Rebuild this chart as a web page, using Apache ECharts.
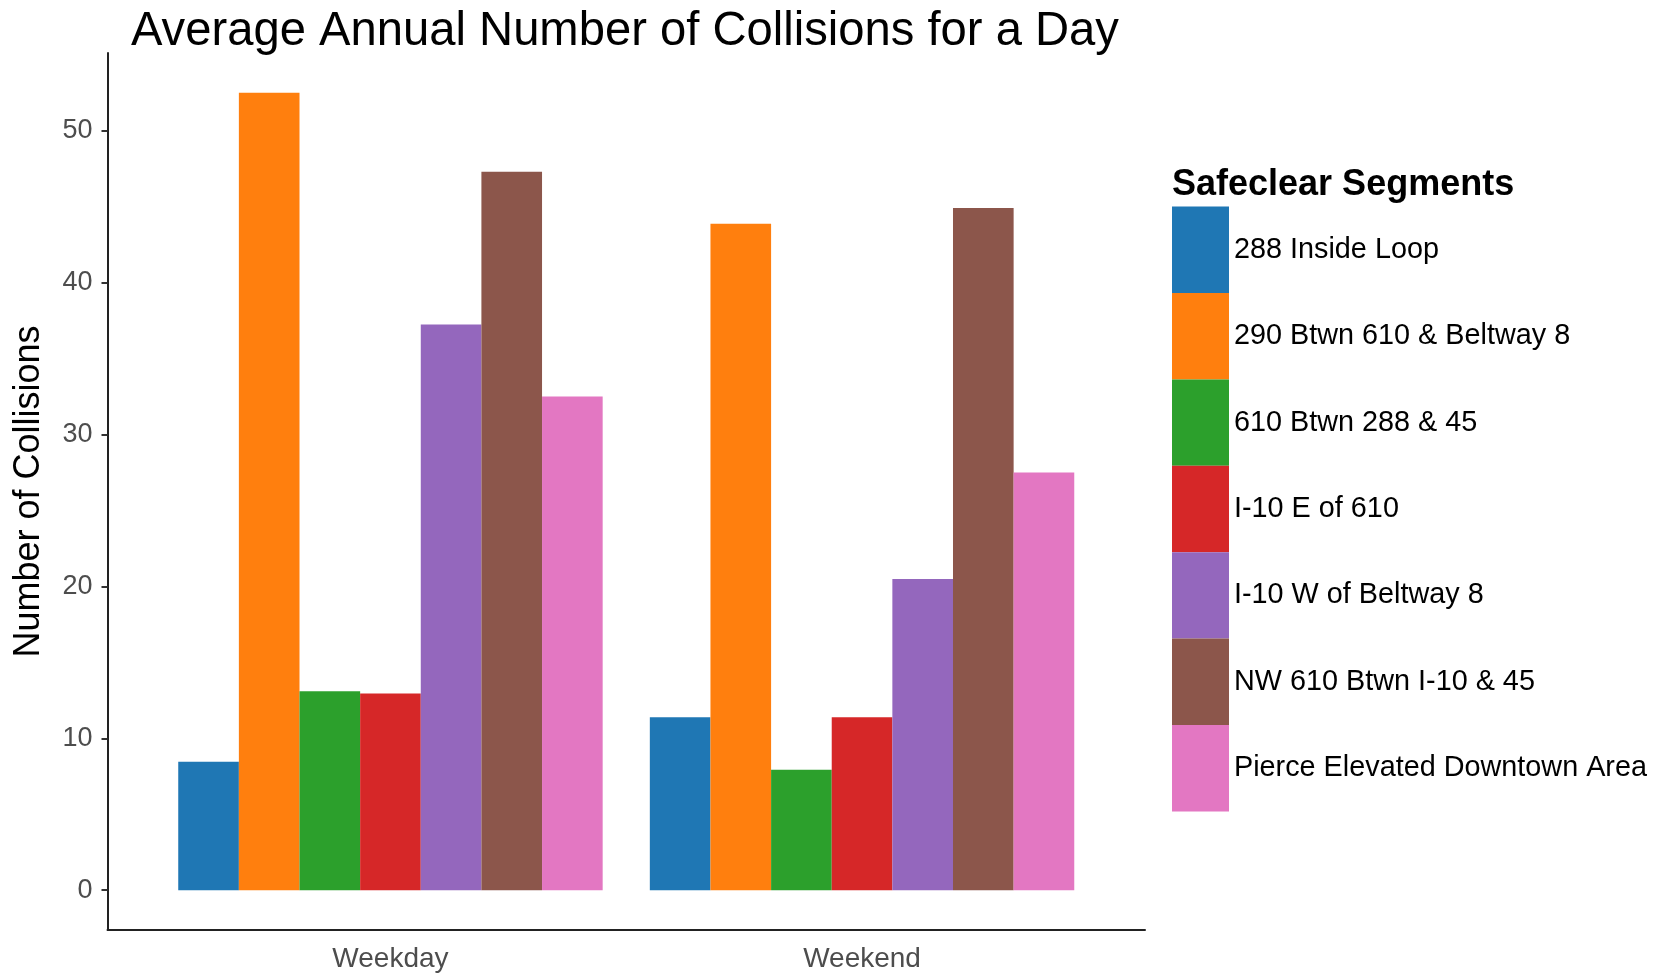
<!DOCTYPE html>
<html>
<head>
<meta charset="utf-8">
<script src="https://cdn.jsdelivr.net/npm/echarts@6/dist/echarts.min.js"></script>
<style>
html,body{margin:0;padding:0;background:#fff;}
#chart{width:1661px;height:973px;}
</style>
</head>
<body>
<div id="chart"></div>
<script>
const categories = ['Weekday', 'Weekend'];
const segments = ['288 Inside Loop', '290 Btwn 610 & Beltway 8', '610 Btwn 288 & 45', 'I-10 E of 610', 'I-10 W of Beltway 8', 'NW 610 Btwn I-10 & 45', 'Pierce Elevated Downtown Area'];
const weekdayValues = [8.45, 52.5, 13.1, 12.95, 37.25, 47.3, 32.5];
const weekendValues = [11.38, 43.88, 7.93, 11.38, 20.48, 44.92, 27.5];
const colors = ['#1F77B4', '#FF7F0E', '#2CA02C', '#D62728', '#9467BD', '#8C564B', '#E377C2'];
const yTicks = [0, 10, 20, 30, 40, 50];
const xPositions = [1, 2];

const FONT = '"Liberation Sans", Arial, sans-serif';
const chart = echarts.init(document.getElementById('chart'), null, {renderer: 'canvas'});

const series = segments.map((name, i) => ({
  type: 'bar',
  name: name,
  data: [[xPositions[0], weekdayValues[i]], [xPositions[1], weekendValues[i]]],
  barGap: '0%',
  barCategoryGap: '10%',
  itemStyle: {color: colors[i]},
  emphasis: {disabled: true}
}));

chart.setOption({
  animation: false,
  backgroundColor: '#ffffff',
  textStyle: {fontFamily: FONT},
  title: [
    {
      text: 'Average Annual Number of Collisions for a Day',
      left: 131, top: 8, padding: 0,
      textStyle: {fontFamily: FONT, fontSize: 47.2, fontWeight: 'normal', color: '#000'}
    },
    {
      text: 'Safeclear Segments',
      left: 1172, top: 167, padding: 0,
      textStyle: {fontFamily: FONT, fontSize: 36, fontWeight: 'bold', color: '#000'}
    }
  ],
  legend: {
    orient: 'vertical',
    left: 1172, top: 206.6,
    padding: 0,
    itemGap: 0,
    itemWidth: 57,
    itemHeight: 86.4,
    icon: 'rect',
    data: segments,
    selectedMode: false,
    textStyle: {fontFamily: FONT, fontSize: 28.8, color: '#000'}
  },
  grid: {left: 107.5, right: 516, top: 53, bottom: 43, containLabel: false},
  xAxis: {
    type: 'value',
    min: 0.4, max: 2.6,
    axisLine: {show: true, onZero: false, lineStyle: {color: '#222', width: 2}},
    axisTick: {show: false},
    splitLine: {show: false},
    axisLabel: {
      customValues: xPositions,
      formatter: v => categories[Math.round(v) - 1] || '',
      fontFamily: FONT, fontSize: 28, color: '#4d4d4d', margin: 15
    }
  },
  yAxis: {
    type: 'value',
    min: -2.625, max: 55.125,
    name: 'Number of Collisions',
    nameLocation: 'middle',
    nameGap: 60,
    nameTextStyle: {fontFamily: FONT, fontSize: 36, color: '#000'},
    axisLine: {show: true, onZero: false, lineStyle: {color: '#222', width: 2}},
    axisTick: {show: true, customValues: yTicks, length: 6, lineStyle: {color: '#333', width: 2}},
    splitLine: {show: false},
    axisLabel: {
      customValues: yTicks,
      fontFamily: FONT, fontSize: 27, color: '#4d4d4d', margin: 15
    }
  },
  series: series
});
</script>
</body>
</html>
